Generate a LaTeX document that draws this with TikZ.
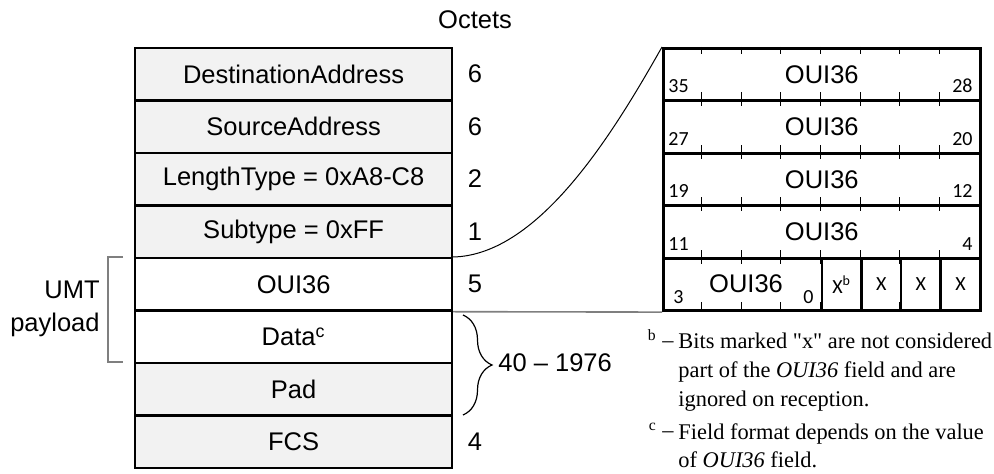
\documentclass[tikz,border=0pt]{standalone}
\usepackage{fontspec}
\setmainfont{Liberation Sans}
\newfontfamily\bitfont{Carlito}
\newfontfamily\notefont{Liberation Serif}
\usepackage{xcolor}
\usetikzlibrary{decorations.pathreplacing}
\definecolor{fieldgray}{HTML}{F2F2F2}
\definecolor{linegray}{HTML}{7F7F7F}

\begin{document}
\begin{tikzpicture}[x=0.5pt, y=-0.5pt,
    field/.style={draw, rectangle, line width=1.1pt, minimum width=158.5pt, minimum height=26.25pt,
      inner sep=0pt, anchor=north west, font=\fontsize{12.75}{15}\selectfont},
    bitrow/.style={draw, rectangle, line width=1.3pt, minimum width=158.5pt, minimum height=26.25pt,
      inner sep=0pt, anchor=north west, font=\fontsize{12.75}{15}\selectfont},
    xcell/.style={draw, rectangle, line width=1.3pt, minimum width=19.81pt, minimum height=26.25pt,
      inner sep=0pt, anchor=north west, font=\bitfont\fontsize{10}{12}\selectfont},
    octnum/.style={font=\fontsize{12.75}{15}\selectfont},
    bitnum/.style={inner sep=0pt, font=\bitfont\fontsize{10}{12}\selectfont},
    note/.style={inner sep=0pt, align=left, font=\notefont\fontsize{11.2}{14.3}\selectfont}]
  \useasboundingbox (0,0) rectangle (994,474);

  % frame fields
  \node[field, fill=fieldgray] (dst) at (134,47) {DestinationAddress};
  \node[field, fill=fieldgray] (src) at (134,99.5) {SourceAddress};
  \node[field, fill=fieldgray] (len) at (134,152) {LengthType = 0xA8-C8};
  \node[field, fill=fieldgray] (sub) at (134,204.5) {Subtype = 0xFF};
  \node[field, fill=white] (oui) at (134,257) {OUI36};
  \node[field, fill=white] (data) at (134,309.5) {Data\textsuperscript{c}};
  \node[field, fill=fieldgray] (pad) at (134,362) {Pad};
  \node[field, fill=fieldgray] (fcs) at (134,414.5) {FCS};

  % octet counts
  \node[octnum] (octets) at (475,20) {Octets};
  \node[octnum] (ndst) at (475,74) {6};
  \node[octnum] (nsrc) at (475,126.5) {6};
  \node[octnum] (nlen) at (475,179) {2};
  \node[octnum] (nsub) at (475,231.5) {1};
  \node[octnum] (noui) at (475,284) {5};
  \node[octnum] (nfcs) at (475,441.5) {4};
  \node[octnum, anchor=west, inner sep=0pt] (npay) at (498,363) {40 – 1976};

  % UMT payload bracket
  \coordinate (umttop) at (123,257);
  \coordinate (umtbot) at (123,362);
  \draw[linegray, line width=0.6pt] (umttop) -- ++(-15,0) |- (umtbot);
  \node[octnum, anchor=east, align=right, inner sep=0pt, font=\fontsize{12.75}{16.5}\selectfont] (umt) at (100,309) {UMT\\payload};

  % brace over Data and Pad
  \coordinate (bracetop) at (463,315);
  \coordinate (bracebot) at (463,415);
  \draw[line width=0.6pt, decorate, decoration={brace, amplitude=14.5pt}] (bracetop) -- (bracebot);

  % OUI36 bit layout
  \node[bitrow] (b1) at (662,47) {OUI36};
  \node[bitrow] (b2) at (662,99.5) {OUI36};
  \node[bitrow] (b3) at (662,152) {OUI36};
  \node[bitrow] (b4) at (662,204.5) {OUI36};
  \node[bitrow] (b5) at (662,257) {};
  \node[octnum] (oui5) at (746,284) {OUI36};

  \foreach \r in {0,...,4}
    \foreach \k in {1,...,7}
      \draw[line width=0.6pt] (662+39.625*\k,47+52.5*\r) -- ++(0,7)
        (662+39.625*\k,99.5+52.5*\r) -- ++(0,-7);

  \foreach \r/\hi/\lo in {0/35/28, 1/27/20, 2/19/12, 3/11/4} {
    \node[bitnum, anchor=base west] at (668,93+52.5*\r) {\hi};
    \node[bitnum, anchor=base east] at (973,93+52.5*\r) {\lo};
  }
  \node[bitnum, anchor=base west] (bit3) at (673,304) {3};
  \node[bitnum, anchor=base east] (bit0) at (814,304) {0};

  \node[xcell] (x1) at (820.5,257) {X\textsuperscript{b}};
  \node[xcell] (x2) at (860.1,257) {X};
  \node[xcell] (x3) at (899.8,257) {X};
  \node[xcell] (x4) at (939.4,257) {X};

  % zoom lines
  \draw[line width=0.5pt] (oui.north east) .. controls (540,255) and (615,130) .. (b1.north west);
  \draw[linegray, line width=0.8pt] (oui.south east) -- (b5.south west);

  % footnotes
  \node[note, anchor=base east] (bmark) at (674,348) {\textsuperscript{b} –};
  \node[note, anchor=north west] (bnote) at (678,333) {Bits marked "x" are not considered\\part of the \textit{OUI36} field and are\\ignored on reception.};
  \node[note, anchor=base east] (cmark) at (674,438) {\textsuperscript{c} –};
  \node[note, anchor=north west] (cnote) at (678,423) {Field format depends on the value\\of \textit{OUI36} field.};
\end{tikzpicture}
\end{document}
